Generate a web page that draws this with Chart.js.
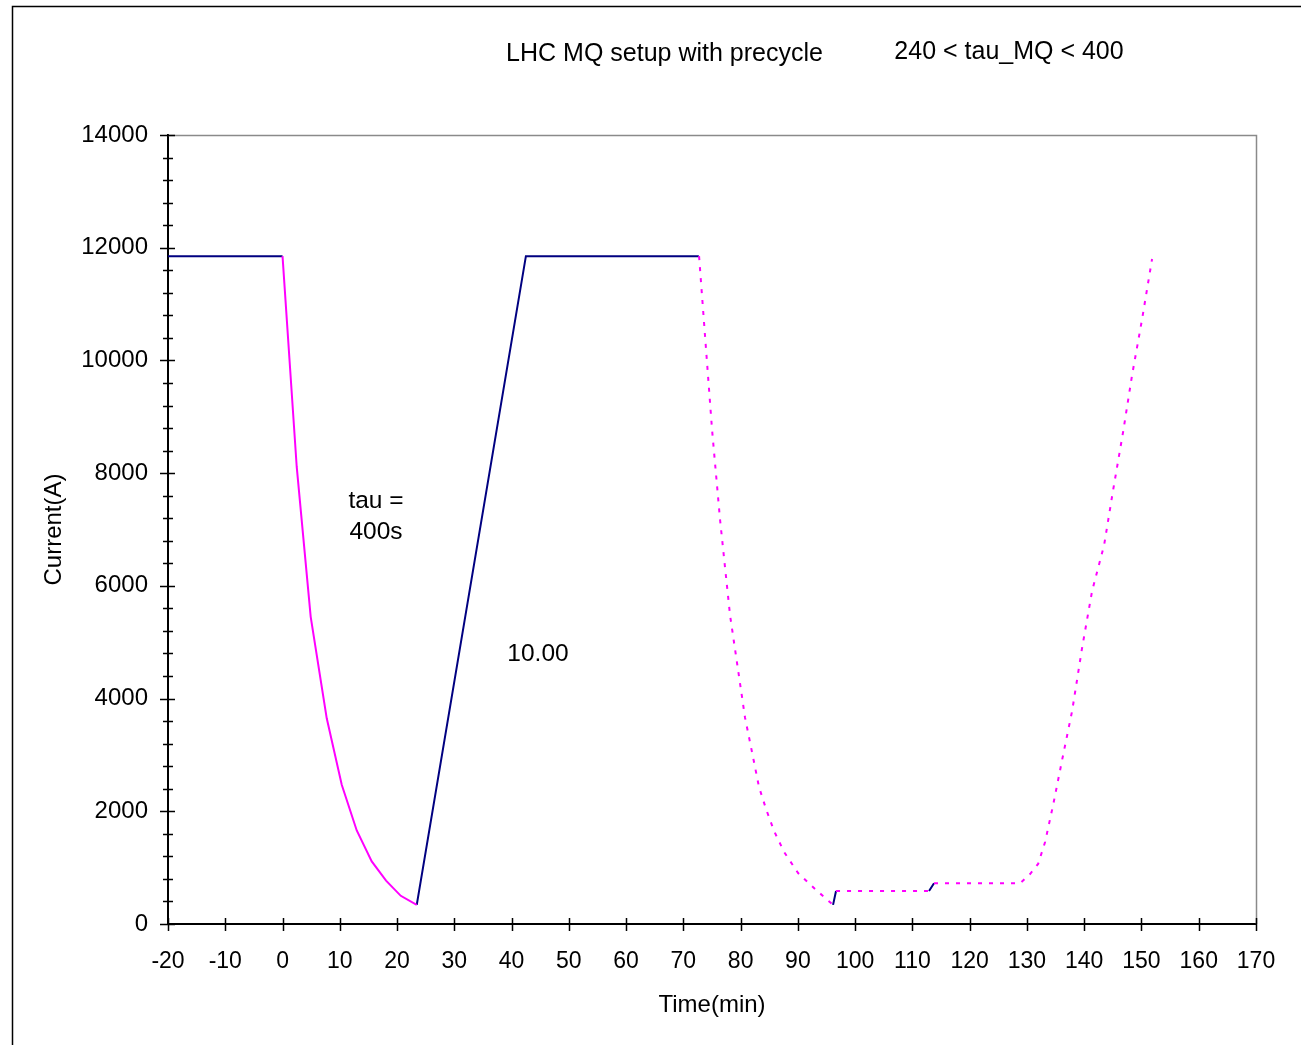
<!DOCTYPE html>
<html>
<head>
<meta charset="utf-8">
<script src="https://cdn.jsdelivr.net/npm/chart.js@4/dist/chart.umd.min.js"></script>
<style>
  html, body { margin: 0; padding: 0; background: #fff; }
  #wrap { width: 1301px; height: 1045px; position: relative; }
</style>
</head>
<body>
<div id="wrap"><canvas id="c" width="1301" height="1045"></canvas></div>
<script>
// ---- data (time in minutes, current in A) ----
const xTicks = [-20, -10, 0, 10, 20, 30, 40, 50, 60, 70, 80, 90, 100, 110, 120, 130, 140, 150, 160, 170];
const yTicks = [0, 2000, 4000, 6000, 8000, 10000, 12000, 14000];

// solid navy segments (null = break)
const blueTime    = [-20,   0,     10,   23.44, 42.5,  72.7,  85,   96.14, 96.66, 105,  112.9, 113.77];
const blueCurrent = [11850, 11850, null, 340,   11850, 11850, null, 340,   585,   null, 585,   722];

// solid magenta discharge, tau = 400 s
const decayTime    = [0,     2.48, 4.92, 7.72, 10.34, 12.96, 15.58, 18.08, 20.65, 23.44];
const decayCurrent = [11850, 8110, 5450, 3650, 2470,  1660,  1110,  770,   500,   340];

// dotted magenta precycle
const preTime = [72.74, 75.01, 76.41, 78.15, 79.55, 80.77, 81.99, 83.21, 84.44, 85.84, 87.58, 90.03, 93.0, 96.14,
                 96.4, 96.66, 112.9, 113.3, 113.77, 128.8,
                 130.55, 131.95, 133.17, 134.57, 136.14, 137.89, 139.63, 141.38, 143.48, 145.05, 146.79, 148.36, 150.11, 151.85];
const preCurrent = [11850, 8770, 7170, 5480, 4510, 3660, 3050, 2430, 2040, 1650, 1280, 905, 620, 340,
                    null, 585, 585, null, 722, 722,
                    887, 1065, 1455, 2110, 2910, 3780, 4900, 5910, 6725, 7700, 8730, 9740, 10735, 11800];

const titleText = 'LHC MQ setup with precycle';
const rangeText = '240 < tau_MQ < 400';
const tauText = ['tau =', '400s'];
const rateText = '10.00';

const FONT = '"Liberation Sans", Arial, Helvetica, sans-serif';

function pts(xs, ys) { return xs.map((x, i) => ({ x: x, y: ys[i] })); }

const decor = {
  id: 'decor',
  beforeDatasetsDraw(chart) {
    const { ctx, chartArea: a } = chart;
    ctx.save();
    ctx.strokeStyle = '#8a8a8a';
    ctx.lineWidth = 1.5;
    ctx.beginPath();
    ctx.moveTo(a.left, a.top + 0.5);
    ctx.lineTo(a.right + 0.5, a.top + 0.5);
    ctx.lineTo(a.right + 0.5, a.bottom);
    ctx.stroke();
    ctx.restore();
  },
  afterDraw(chart) {
    const { ctx, chartArea: a } = chart;
    const xs = chart.scales.x, ys = chart.scales.y;
    ctx.save();
    // outer frame
    ctx.strokeStyle = '#000';
    ctx.lineWidth = 1.5;
    ctx.beginPath();
    ctx.moveTo(12.5, 1045);
    ctx.lineTo(12.5, 6.5);
    ctx.lineTo(1301, 6.5);
    ctx.stroke();
    // tick marks crossing the axes
    ctx.lineWidth = 1.5;
    ctx.strokeStyle = '#000';
    ctx.beginPath();
    xTicks.forEach(v => {
      const px = Math.round(xs.getPixelForValue(v)) + 0.5;
      ctx.moveTo(px, a.bottom - 6);
      ctx.lineTo(px, a.bottom + 7);
    });
    for (let v = 0; v <= 14000; v += 400) {
      const py = Math.round(ys.getPixelForValue(v)) + 0.5;
      const major = v % 2000 === 0;
      ctx.moveTo(a.left - (major ? 8 : 5), py);
      ctx.lineTo(a.left + (major ? 7 : 5), py);
    }
    ctx.stroke();
    // texts
    ctx.fillStyle = '#000';
    ctx.textAlign = 'center';
    ctx.textBaseline = 'middle';
    ctx.font = '25px ' + FONT;
    ctx.fillText(titleText, 664.5, 54);
    ctx.fillText(rangeText, 1009, 52);
    ctx.font = '24.5px ' + FONT;
    ctx.fillText(tauText[0], 376, 501);
    ctx.fillText(tauText[1], 376, 532);
    ctx.fillText(rateText, 538, 654);
    ctx.restore();
  }
};

new Chart(document.getElementById('c'), {
  type: 'line',
  data: {
    datasets: [
      {
        data: pts(decayTime, decayCurrent),
        borderColor: '#ff00ff', borderWidth: 2, pointRadius: 0, tension: 0, spanGaps: false
      },
      {
        data: pts(preTime, preCurrent),
        borderColor: '#ff00ff', borderWidth: 2, borderDash: [4, 7], pointRadius: 0, tension: 0, spanGaps: false
      },
      {
        data: pts(blueTime, blueCurrent),
        borderColor: '#000080', borderWidth: 2, pointRadius: 0, tension: 0, spanGaps: false
      }
    ]
  },
  options: {
    responsive: false,
    animation: false,
    events: [],
    layout: { padding: { left: 0, top: 135, right: 45, bottom: 0 } },
    plugins: { legend: { display: false }, tooltip: { enabled: false }, title: { display: false } },
    scales: {
      x: {
        type: 'linear', min: -20, max: 170,
        afterBuildTicks: s => { s.ticks = xTicks.map(v => ({ value: v })); },
        afterFit: s => { s.height = 121; },
        grid: { display: false },
        border: { display: true, color: '#000', width: 2 },
        ticks: { color: '#000', padding: 16, maxRotation: 0, autoSkip: false, font: { family: FONT, size: 23 }, callback: v => String(v) },
        title: { display: true, text: 'Time(min)', color: '#000', font: { family: FONT, size: 24 }, padding: { top: 0, bottom: 25 } }
      },
      y: {
        type: 'linear', min: 0, max: 14000,
        afterBuildTicks: s => { s.ticks = yTicks.map(v => ({ value: v })); },
        afterFit: s => { s.width = 168; },
        grid: { display: false },
        border: { display: true, color: '#000', width: 2 },
        ticks: { color: '#000', padding: 12, autoSkip: false, font: { family: FONT, size: 24 }, callback: v => String(v) },
        title: { display: true, text: 'Current(A)', color: '#000', font: { family: FONT, size: 24 }, padding: { top: 40, bottom: 0 } }
      }
    }
  },
  plugins: [decor]
});
</script>
</body>
</html>
